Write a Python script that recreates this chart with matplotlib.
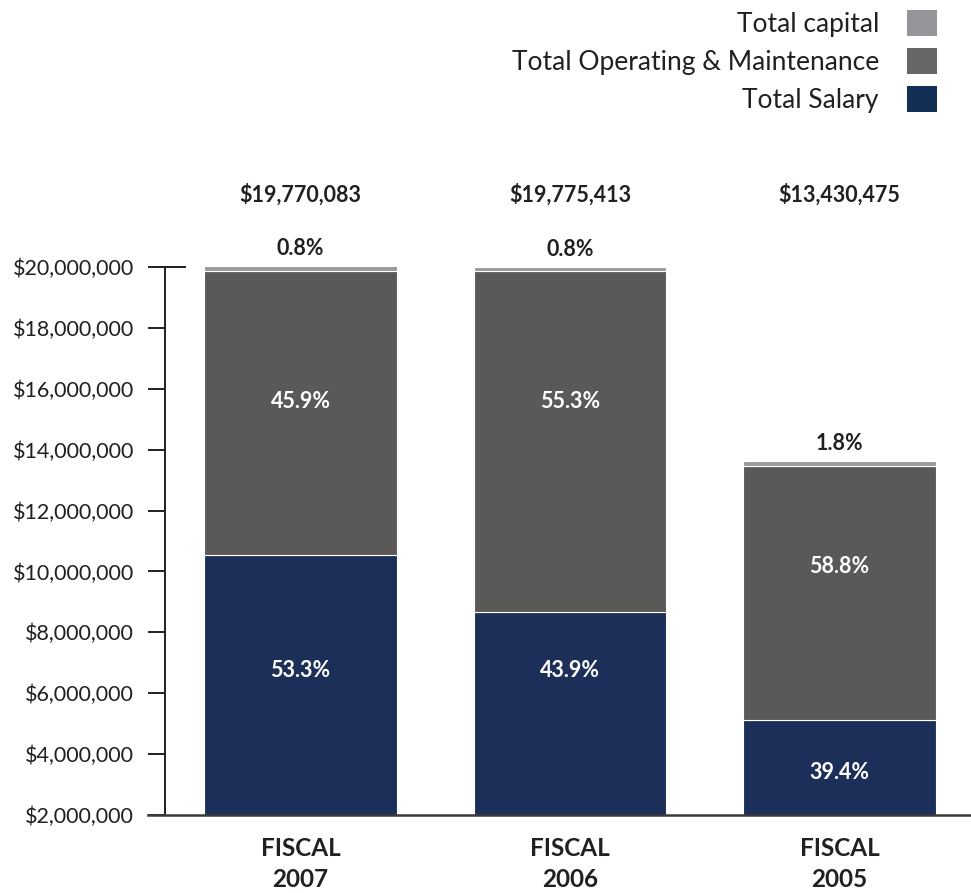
import matplotlib.pyplot as plt
from matplotlib.patches import Patch
from matplotlib.transforms import blended_transform_factory

plt.rcParams['font.family'] = ['Lato', 'DejaVu Sans']

# values (dollars)
years = ['FISCAL\n2007', 'FISCAL\n2006', 'FISCAL\n2005']
salary = [10.55e6, 8.67e6, 5.12e6]
operating = [9.32e6, 11.20e6, 8.35e6]
capital = [0.16e6, 0.14e6, 0.16e6]
totals = ['$19,770,083', '$19,775,413', '$13,430,475']
pct_salary = ['53.3%', '43.9%', '39.4%']
pct_operating = ['45.9%', '55.3%', '58.8%']
pct_capital = ['0.8%', '0.8%', '1.8%']
yticks = list(range(2000000, 20000001, 2000000))

c_salary = '#1c2f59'
c_oper = '#5a5957'
c_cap = '#9a9a9a'
txt = '#231f20'

fig = plt.figure(figsize=(9.71, 8.93), dpi=100)
ax = fig.add_axes([148 / 971, 78 / 893, 823 / 971, 654.5 / 893])

x = range(len(years))
w = 0.716
ax.bar(x, salary, w, color=c_salary, edgecolor='white', linewidth=0.8)
ax.bar(x, operating, w, bottom=salary, color=c_oper, edgecolor='white', linewidth=0.8)
bot2 = [s + o for s, o in zip(salary, operating)]
ax.bar(x, capital, w, bottom=bot2, color=c_cap, edgecolor='white', linewidth=0.8)

ax.set_xlim(-0.566, 2.488)
ax.set_ylim(2e6, 23.5e6)

for s in ['top', 'right']:
    ax.spines[s].set_visible(False)
ax.spines['left'].set_position(('axes', 17 / 823))
ax.spines['left'].set_bounds(2e6, 2e7)
ax.spines['left'].set_linewidth(1.4)
ax.spines['left'].set_color(txt)
ax.spines['bottom'].set_linewidth(1.8)
ax.spines['bottom'].set_color('#3a3a3a')

ax.set_yticks(yticks)
ax.set_yticklabels(['${:,}'.format(v) for v in yticks])
ax.tick_params(axis='y', direction='out', length=12.2, width=1.4, color=txt,
               labelsize=15.5, labelcolor=txt, pad=10)
ax.set_xticks(list(x))
ax.set_xticklabels(years, fontsize=17.5, fontweight='bold', color=txt, linespacing=1.4)
ax.tick_params(axis='x', length=0, pad=16)

# little tick extension to the right of the spine at the top
tr = blended_transform_factory(ax.transAxes, ax.transData)
ax.plot([17 / 823, 37 / 823], [2e7, 2e7], color=txt, lw=1.4, transform=tr, clip_on=False)

# labels inside and above the bars
lab_oper_y = [15.57e6, 15.57e6, 10.15e6]
lab_sal_y = [6.76e6, 6.76e6, 3.38e6]
for i in x:
    ax.text(i, lab_oper_y[i], pct_operating[i], ha='center', va='center',
            color='white', fontsize=15.5, fontweight='bold')
    ax.text(i, lab_sal_y[i], pct_salary[i], ha='center', va='center',
            color='white', fontsize=15.5, fontweight='bold')
    ax.annotate(pct_capital[i], (i, bot2[i] + capital[i]), xytext=(0, 5),
                textcoords='offset points', ha='center', va='bottom',
                color=txt, fontsize=15.5, fontweight='bold')
    ax.text(i, 22.37e6, totals[i], ha='center', va='center',
            color=txt, fontsize=15.5, fontweight='bold')

handles = [Patch(facecolor='#96969a'), Patch(facecolor='#666666'), Patch(facecolor='#122e55')]
labels = ['Total capital', 'Total Operating & Maintenance', 'Total Salary']
leg = fig.legend(handles, labels, loc='upper right', bbox_to_anchor=(937 / 971, 1 - 10 / 893),
                 frameon=False, markerfirst=False, fontsize=19, handlelength=1.15,
                 handleheight=1.15, handletextpad=1.05, labelspacing=0.42,
                 borderaxespad=0, borderpad=0)
for t in leg.get_texts():
    t.set_color(txt)

fig.savefig('out.png', dpi=100)
